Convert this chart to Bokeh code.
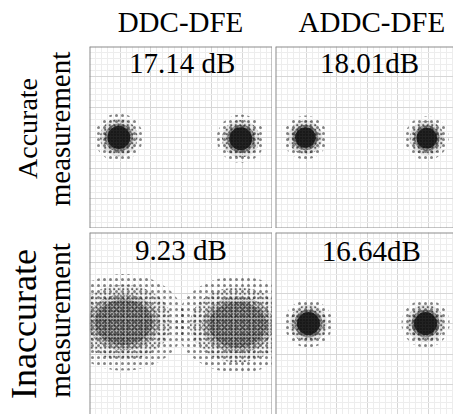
import math
from bokeh.plotting import figure
from bokeh.layouts import gridplot
from bokeh.models import Label, Grid, SingleIntervalTicker, ColumnDataSource, Span
from bokeh.embed import file_html
from bokeh.resources import INLINE

# ---------------- data ----------------
column_titles = ["DDC-DFE", "ADDC-DFE"]
row_titles = [["Accurate", "measurement"], ["Inaccurate", "measurement"]]
snr_labels = ["17.14 dB", "18.01dB", "9.23 dB", "16.64dB"]

# BPSK cluster centres: [left symbol, right symbol]
center_x = [[-1.02, 0.98], [-1.01, 0.98], [-0.94, 0.93], [-0.96, 0.96]]
center_y = [[0.00, -0.02], [0.00, -0.01], [0.02, -0.02], [0.00, 0.00]]
# estimated spread (std) of each cloud, per panel
spread_x = [0.11, 0.10, 0.28, 0.11]
spread_y = [0.11, 0.10, 0.22, 0.11]
core_density = [0.95, 0.95, 0.28, 0.95]

# ---------------- layout ----------------
S = 61.0  # pixels per unit
FONT = "Liberation Serif"
SHIFT = 0.37  # em; the svg text sits lower than the alphabetic baseline
# (min_border_left, min_border_top, frame_w, frame_h)
frames = [(0, 0, 183, 182), (3, 0, 178, 182), (0, 4, 183, 182), (3, 4, 178, 182)]
# visible frame edges (left, top, right, bottom); the others are cropped in the source
edges = [(1, 1, 1, 1), (1, 1, 0, 1), (1, 1, 1, 0), (1, 1, 0, 0)]
snr_x = [0.02, 0.04, 0.0, 0.07]
snr_drop = [27, 27, 28, 29]

# density layers: (k*sigma, fill alpha factor, hatch_scale, hatch_alpha)
layers = [(3.6, 0.0, 6.0, 0.55), (2.8, 0.10, 4.5, 0.7), (2.1, 0.45, 3.0, 0.8), (1.7, 1.0, None, 0)]


def blank(w, h):
    f = figure(width=w, height=h, x_range=(0, w), y_range=(0, h),
               x_axis_location=None, y_axis_location=None, toolbar_location=None,
               output_backend="svg", min_border=0)
    f.title.visible = False
    f.xgrid.visible = False
    f.ygrid.visible = False
    f.outline_line_color = None
    f.background_fill_color = "white"
    f.border_fill_color = "white"
    return f


panels = []
for i, (bl, bt, fw, fh) in enumerate(frames):
    x0 = -1.5
    x1 = x0 + fw / S
    y1 = (fh / 2) / S
    y0 = -y1
    p = figure(width=bl + fw, height=bt + fh, x_range=(x0, x1), y_range=(y0, y1),
               x_axis_location=None, y_axis_location=None, toolbar_location=None,
               output_backend="svg", min_border_left=bl, min_border_top=bt,
               min_border_right=0, min_border_bottom=0)
    p.title.visible = False
    p.background_fill_color = "white"
    p.border_fill_color = "white"
    p.outline_line_color = None
    for dim in (0, 1):
        g = Grid(dimension=dim, ticker=SingleIntervalTicker(interval=0.5, num_minor_ticks=5),
                 grid_line_color="#d6d6d6", grid_line_width=1,
                 minor_grid_line_color="#ededed", minor_grid_line_width=1)
        p.add_layout(g)

    src = ColumnDataSource(dict(x=center_x[i], y=center_y[i]))
    for k, fa, hs, ha in layers:
        w = 2 * k * spread_x[i]
        h = 2 * k * spread_y[i]
        if hs is not None:
            p.ellipse(x="x", y="y", width=w, height=h, source=src,
                      fill_color="#2a2a2a", fill_alpha=fa * core_density[i], line_color=None,
                      hatch_pattern="dot", hatch_scale=hs, hatch_color="#1e1e1e",
                      hatch_alpha=ha, hatch_weight=1)
        else:
            p.ellipse(x="x", y="y", width=w, height=h, source=src,
                      fill_color="#1e1e1e", fill_alpha=core_density[i], line_color=None,
                      hatch_pattern="dot", hatch_scale=3.0, hatch_color="#000000",
                      hatch_alpha=0.6, hatch_weight=1)

    L, T, R, B = edges[i]
    for on, loc, dim in ((L, x0, "height"), (R, x1, "height"), (T, y1, "width"), (B, y0, "width")):
        if on:
            p.add_layout(Span(location=loc, dimension=dim, line_color="#8c8c8c", line_width=2))

    p.add_layout(Label(x=snr_x[i], y=y1 - (snr_drop[i] - SHIFT * 29) / S, text=snr_labels[i],
                       text_font=FONT, text_font_size="29px", text_align="center",
                       text_baseline="alphabetic", text_color="black"))
    panels.append(p)

# header figures (column titles)
hdr_w = [183, 181]
hdr_x = [91, 98]
headers = []
for c in range(2):
    h = blank(hdr_w[c], 46)
    h.add_layout(Label(x=hdr_x[c], y=14 + SHIFT * 29, text=column_titles[c],
                       text_font=FONT, text_font_size="29px", text_align="center",
                       text_baseline="alphabetic", text_color="black"))
    headers.append(h)

# row label figures
row_h = [182, 186]
row_font = [[28, 29], [36, 29]]
row_y = [[100, 99.5], [92.5, 96]]
row_xb = [37, 70]
rows = []
for r in range(2):
    f = blank(89, row_h[r])
    for j in range(2):
        fs = row_font[r][j]
        f.add_layout(Label(x=row_xb[j] - SHIFT * fs, y=row_y[r][j], text=row_titles[r][j],
                           angle=math.pi / 2, text_font=FONT, text_font_size=f"{fs}px",
                           text_align="center", text_baseline="alphabetic", text_color="black"))
    rows.append(f)

corner = blank(89, 46)

grid = gridplot([[corner, headers[0], headers[1]],
                 [rows[0], panels[0], panels[1]],
                 [rows[1], panels[2], panels[3]]], toolbar_location=None)

open("out.html", "w").write(file_html(grid, INLINE))
